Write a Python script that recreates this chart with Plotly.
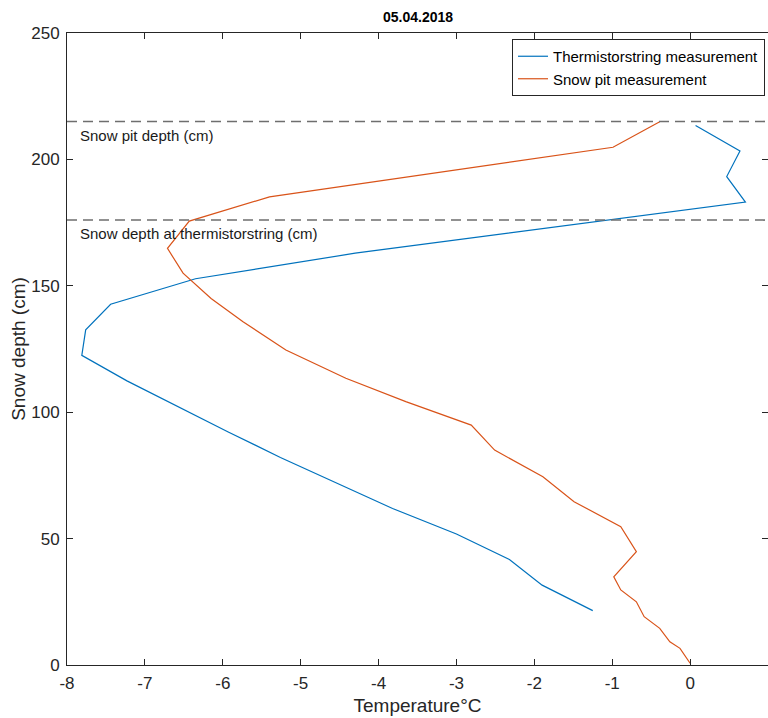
import plotly.graph_objects as go

# Thermistor string measurement (temperature °C, depth cm)
thermo_temp = [-1.25, -1.90, -2.32, -3.00, -3.82, -4.54, -5.26, -5.93, -6.59, -7.23,
               -7.81, -7.76, -7.44, -6.35, -4.30, -1.80, 0.71, 0.47, 0.64, 0.07]
thermo_depth = [21.5, 31.6, 41.7, 51.8, 61.9, 72.0, 82.1, 92.2, 102.3, 112.4,
                122.5, 132.6, 142.7, 152.8, 162.9, 173.0, 183.1, 193.2, 203.3, 213.4]

# Snow pit measurement
pit_temp = [0.0, -0.13, -0.26, -0.39, -0.59, -0.69, -0.89, -0.98, -0.69, -0.89,
            -1.49, -1.89, -2.51, -2.81, -3.65, -4.42, -5.19, -5.74, -6.15, -6.51,
            -6.71, -6.43, -5.40, -0.99, -0.39]
pit_depth = [0.7, 6.6, 9.2, 14.5, 19.1, 25.0, 29.7, 34.9, 44.8, 54.7,
             64.6, 74.5, 85.0, 94.9, 104.2, 113.4, 124.6, 135.8, 145.0, 155.0,
             164.8, 175.6, 185.2, 204.8, 214.9]

pit_depth_line = 215
thermo_depth_line = 176
ref_labels = ["Snow pit depth (cm)", "Snow depth at thermistorstring (cm)"]

x_ticks = [-8, -7, -6, -5, -4, -3, -2, -1, 0, 1]
y_ticks = [0, 50, 100, 150, 200, 250]

FONT = "Liberation Sans, Arial, Helvetica, sans-serif"
AX = "#262626"

fig = go.Figure()
fig.add_trace(go.Scatter(x=thermo_temp, y=thermo_depth, mode="lines",
                         name="Thermistorstring measurement",
                         line=dict(color="#0072BD", width=1.2)))
fig.add_trace(go.Scatter(x=pit_temp, y=pit_depth, mode="lines",
                         name="Snow pit measurement",
                         line=dict(color="#D95319", width=1.2)))

for yv in (pit_depth_line, thermo_depth_line):
    fig.add_hline(y=yv, line=dict(color="#6e6e6e", width=1.6, dash="10px,6px"))

for yv, txt in zip((pit_depth_line, thermo_depth_line), ref_labels):
    fig.add_annotation(x=-7.86, y=yv - 5.5, text=txt, showarrow=False,
                       xanchor="left", yanchor="middle",
                       font=dict(family=FONT, size=15, color="#1a1a1a"))

fig.update_layout(
    width=768, height=718,
    margin=dict(l=67, r=0, t=33, b=53),
    paper_bgcolor="white", plot_bgcolor="white",
    font=dict(family=FONT, size=16, color=AX),
    title=dict(text="<b>05.04.2018</b>", x=418 / 768, xanchor="center",
               y=1 - 17 / 718, yanchor="middle", yref="container",
               font=dict(family=FONT, size=14, color="#000000")),
    legend=dict(x=(512 - 67) / 701, y=1 - (39 - 33) / 632, xanchor="left", yanchor="top",
                bgcolor="white", bordercolor=AX, borderwidth=1,
                font=dict(family=FONT, size=15, color="#000000"),
                tracegroupgap=0),
    showlegend=True,
)
fig.update_xaxes(range=[-8, 1], tickvals=x_ticks, ticktext=[str(v) for v in x_ticks],
                 ticks="inside", ticklen=6, tickcolor=AX, showgrid=False, zeroline=False,
                 showline=True, linecolor=AX, linewidth=1, mirror="ticks",
                 ticklabelstandoff=3,
                 title=dict(text="Temperature°C", font=dict(family=FONT, size=19, color=AX), standoff=6),
                 tickfont=dict(family=FONT, size=17, color=AX))
fig.update_yaxes(range=[0, 250], tickvals=y_ticks,
                 ticks="inside", ticklen=6, tickcolor=AX, showgrid=False, zeroline=False,
                 showline=True, linecolor=AX, linewidth=1, mirror="ticks",
                 ticklabelstandoff=3,
                 title=dict(text="Snow depth (cm)", font=dict(family=FONT, size=19, color=AX), standoff=0),
                 tickfont=dict(family=FONT, size=17, color=AX))

fig.write_html("out.html")
